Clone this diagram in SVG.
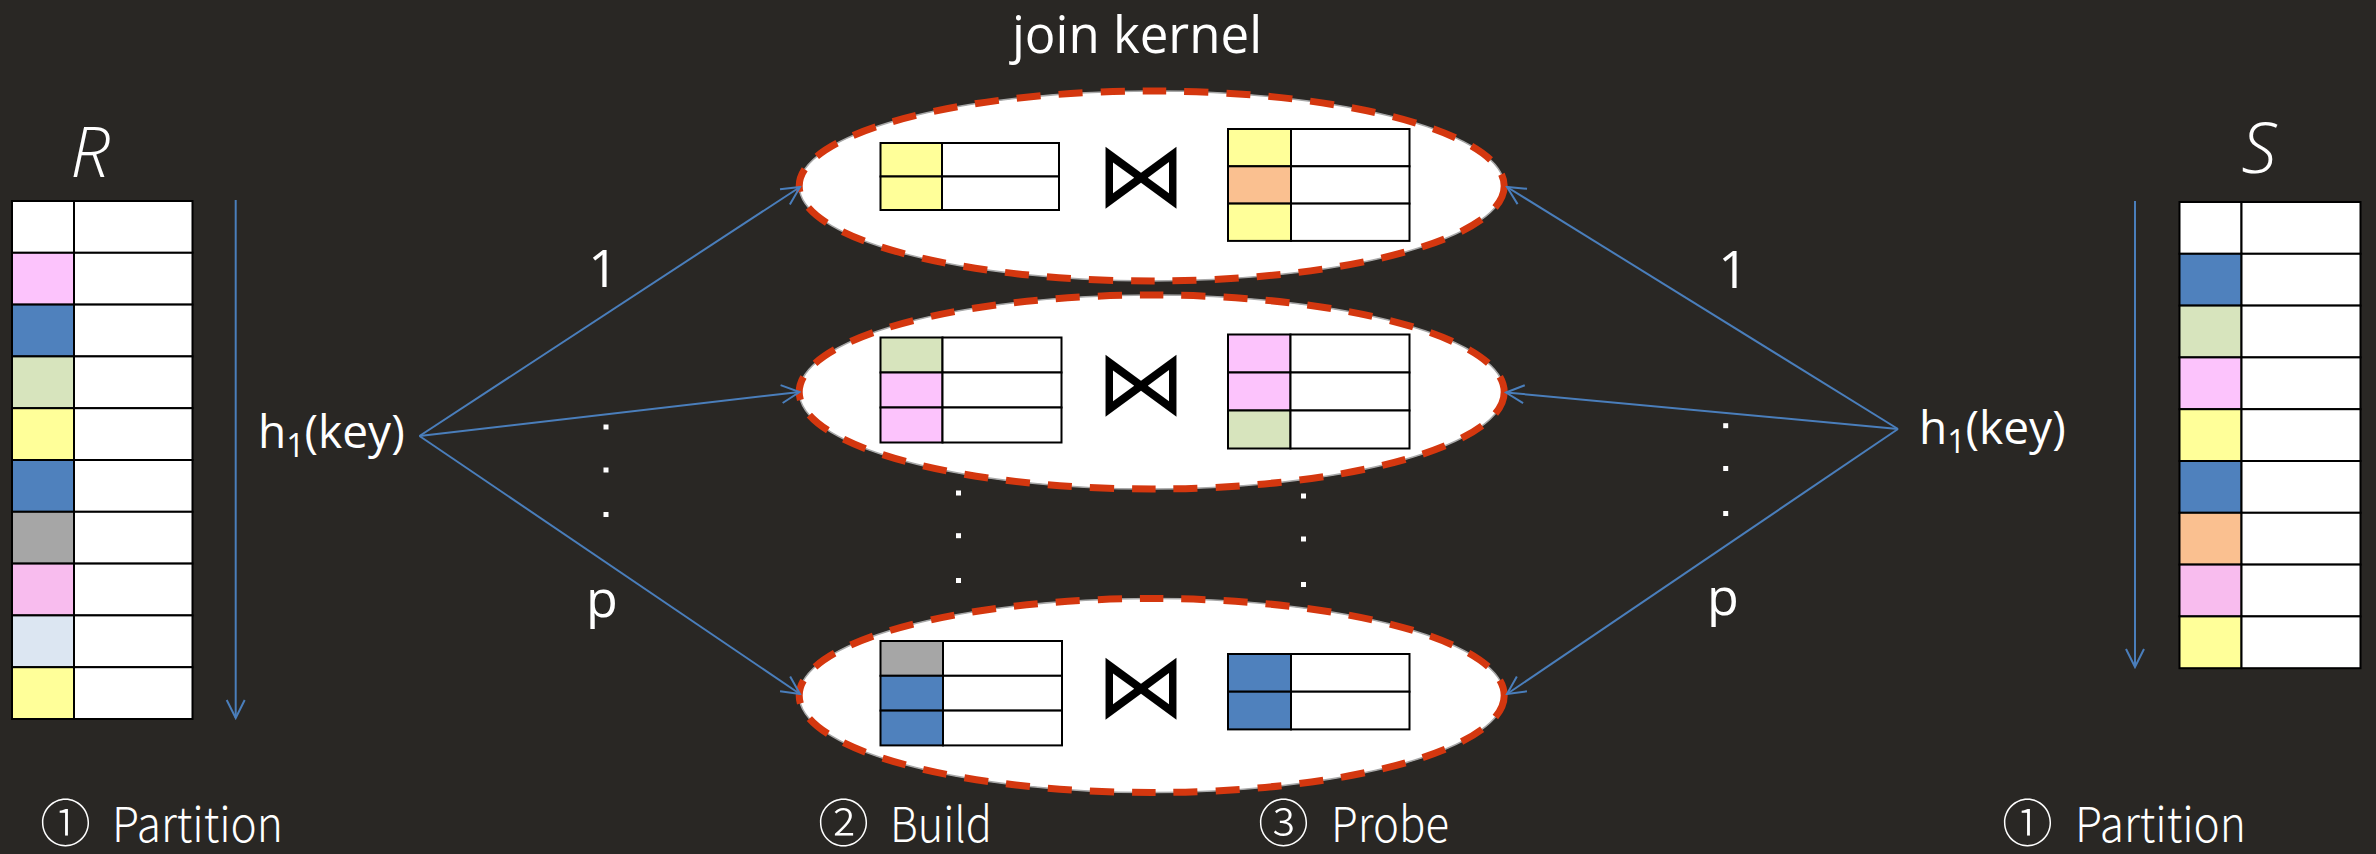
<svg xmlns="http://www.w3.org/2000/svg" width="2376" height="854" viewBox="0 0 2376 854">
<style>
.bg{fill:#292724}
.c{stroke:#000;stroke-width:2}
.w{fill:#fff}
.y{fill:#FFFF99}
.o{fill:#FAC090}
.g{fill:#D7E4BD}
.pk{fill:#FCC3FC}
.pk2{fill:#F8BCEE}
.b{fill:#4F81BD}
.gr{fill:#A6A6A6}
.lb{fill:#DCE6F2}
.t{fill:#fff;font-family:"Open Sans","Noto Sans",sans-serif}
.lt{fill:#fff;font-family:"Noto Sans CJK KR","Open Sans",sans-serif;font-weight:300}
.ell{fill:#fff;stroke:#a8a8a8;stroke-width:1.5}
.dash{fill:none;stroke:#D4370F;stroke-width:7;stroke-dasharray:24 18}
.bow{fill:#000;font-family:"DejaVu Sans",sans-serif}
.ar{fill:none;stroke:#4A7EBB;stroke-width:2}
</style>
<defs>
<marker id="ah" viewBox="-21 -11 23 22" refX="0" refY="0" markerWidth="23" markerHeight="22" markerUnits="userSpaceOnUse" orient="auto">
<path d="M-18,-9 L0,0 L-18,9" fill="none" stroke="#4A7EBB" stroke-width="2"/>
</marker>
</defs>
<rect class="bg" x="0" y="0" width="2376" height="854"/>

<text id="title" class="t" x="1137" y="53" font-size="51" text-anchor="middle">join kernel</text>

<g id="R">
<text class="t" x="90" y="177" font-size="70" font-weight="300" font-style="italic" text-anchor="middle">R</text>
<g class="c">
<rect class="w" x="12" y="201" width="62" height="51.8"/><rect class="w" x="74" y="201" width="118.5" height="51.8"/>
<rect class="pk" x="12" y="252.8" width="62" height="51.8"/><rect class="w" x="74" y="252.8" width="118.5" height="51.8"/>
<rect class="b" x="12" y="304.6" width="62" height="51.8"/><rect class="w" x="74" y="304.6" width="118.5" height="51.8"/>
<rect class="g" x="12" y="356.4" width="62" height="51.8"/><rect class="w" x="74" y="356.4" width="118.5" height="51.8"/>
<rect class="y" x="12" y="408.2" width="62" height="51.8"/><rect class="w" x="74" y="408.2" width="118.5" height="51.8"/>
<rect class="b" x="12" y="460" width="62" height="51.8"/><rect class="w" x="74" y="460" width="118.5" height="51.8"/>
<rect class="gr" x="12" y="511.8" width="62" height="51.8"/><rect class="w" x="74" y="511.8" width="118.5" height="51.8"/>
<rect class="pk2" x="12" y="563.6" width="62" height="51.8"/><rect class="w" x="74" y="563.6" width="118.5" height="51.8"/>
<rect class="lb" x="12" y="615.4" width="62" height="51.8"/><rect class="w" x="74" y="615.4" width="118.5" height="51.8"/>
<rect class="y" x="12" y="667.2" width="62" height="51.8"/><rect class="w" x="74" y="667.2" width="118.5" height="51.8"/>
</g>
</g>

<g id="S">
<text class="t" x="2259" y="173" font-size="70" font-weight="300" font-style="italic" text-anchor="middle">S</text>
<g class="c">
<rect class="w" x="2179.5" y="202" width="62" height="51.8"/><rect class="w" x="2241.5" y="202" width="119" height="51.8"/>
<rect class="b" x="2179.5" y="253.8" width="62" height="51.8"/><rect class="w" x="2241.5" y="253.8" width="119" height="51.8"/>
<rect class="g" x="2179.5" y="305.6" width="62" height="51.8"/><rect class="w" x="2241.5" y="305.6" width="119" height="51.8"/>
<rect class="pk" x="2179.5" y="357.4" width="62" height="51.8"/><rect class="w" x="2241.5" y="357.4" width="119" height="51.8"/>
<rect class="y" x="2179.5" y="409.2" width="62" height="51.8"/><rect class="w" x="2241.5" y="409.2" width="119" height="51.8"/>
<rect class="b" x="2179.5" y="461" width="62" height="51.8"/><rect class="w" x="2241.5" y="461" width="119" height="51.8"/>
<rect class="o" x="2179.5" y="512.8" width="62" height="51.8"/><rect class="w" x="2241.5" y="512.8" width="119" height="51.8"/>
<rect class="pk2" x="2179.5" y="564.6" width="62" height="51.8"/><rect class="w" x="2241.5" y="564.6" width="119" height="51.8"/>
<rect class="y" x="2179.5" y="616.4" width="62" height="51.8"/><rect class="w" x="2241.5" y="616.4" width="119" height="51.8"/>
</g>
</g>

<g id="kernel1">
<ellipse class="ell" cx="1151.7" cy="186" rx="352.5" ry="95"/>
<ellipse class="dash" cx="1151.7" cy="186" rx="352.5" ry="95"/>
<g class="c">
<rect class="y" x="880.5" y="143" width="61.5" height="33.5"/><rect class="w" x="942" y="143" width="117" height="33.5"/>
<rect class="y" x="880.5" y="176.5" width="61.5" height="33.5"/><rect class="w" x="942" y="176.5" width="117" height="33.5"/>
<rect class="y" x="1228" y="129" width="63" height="37.3"/><rect class="w" x="1291" y="129" width="118.5" height="37.3"/>
<rect class="o" x="1228" y="166.3" width="63" height="37.3"/><rect class="w" x="1291" y="166.3" width="118.5" height="37.3"/>
<rect class="y" x="1228" y="203.6" width="63" height="37.3"/><rect class="w" x="1291" y="203.6" width="118.5" height="37.3"/>
</g>
<text class="bow" x="1141" y="206" font-size="90" text-anchor="middle">⋈</text>
</g>

<g id="kernel2">
<ellipse class="ell" cx="1151.7" cy="392" rx="352.5" ry="97"/>
<ellipse class="dash" cx="1151.7" cy="392" rx="352.5" ry="97"/>
<g class="c">
<rect class="g" x="880.5" y="337.5" width="62" height="35"/><rect class="w" x="942.5" y="337.5" width="119" height="35"/>
<rect class="pk" x="880.5" y="372.5" width="62" height="35"/><rect class="w" x="942.5" y="372.5" width="119" height="35"/>
<rect class="pk" x="880.5" y="407.5" width="62" height="35"/><rect class="w" x="942.5" y="407.5" width="119" height="35"/>
<rect class="pk" x="1228" y="334.5" width="62.5" height="38"/><rect class="w" x="1290.5" y="334.5" width="119" height="38"/>
<rect class="pk" x="1228" y="372.5" width="62.5" height="38"/><rect class="w" x="1290.5" y="372.5" width="119" height="38"/>
<rect class="g" x="1228" y="410.5" width="62.5" height="38"/><rect class="w" x="1290.5" y="410.5" width="119" height="38"/>
</g>
<text class="bow" x="1141" y="414" font-size="90" text-anchor="middle">⋈</text>
</g>

<g id="kernel3">
<ellipse class="ell" cx="1151.7" cy="695.5" rx="352.5" ry="97"/>
<ellipse class="dash" cx="1151.7" cy="695.5" rx="352.5" ry="97"/>
<g class="c">
<rect class="gr" x="880.5" y="641" width="62.5" height="34.8"/><rect class="w" x="943" y="641" width="119" height="34.8"/>
<rect class="b" x="880.5" y="675.8" width="62.5" height="34.8"/><rect class="w" x="943" y="675.8" width="119" height="34.8"/>
<rect class="b" x="880.5" y="710.6" width="62.5" height="34.8"/><rect class="w" x="943" y="710.6" width="119" height="34.8"/>
<rect class="b" x="1228" y="654" width="63" height="37.7"/><rect class="w" x="1291" y="654" width="118.5" height="37.7"/>
<rect class="b" x="1228" y="691.7" width="63" height="37.7"/><rect class="w" x="1291" y="691.7" width="118.5" height="37.7"/>
</g>
<text class="bow" x="1141" y="717" font-size="90" text-anchor="middle">⋈</text>
</g>

<g id="connectors" class="ar">
<line x1="235.7" y1="200" x2="235.7" y2="718" marker-end="url(#ah)"/>
<line x1="2135" y1="201" x2="2135" y2="667" marker-end="url(#ah)"/>
<line x1="419.5" y1="436" x2="800" y2="187" marker-end="url(#ah)"/>
<line x1="419.5" y1="436" x2="799.5" y2="392" marker-end="url(#ah)"/>
<line x1="419.5" y1="436" x2="800" y2="694" marker-end="url(#ah)"/>
<line x1="1898" y1="429" x2="1507" y2="187" marker-end="url(#ah)"/>
<line x1="1898" y1="429" x2="1506" y2="392.5" marker-end="url(#ah)"/>
<line x1="1898" y1="429" x2="1507" y2="694" marker-end="url(#ah)"/>
</g>

<g id="labels">
<text class="t" x="258" y="448" font-size="46">h<tspan font-size="32" dy="9">1</tspan><tspan dy="-9">(key)</tspan></text>
<text class="t" x="1919" y="444" font-size="46">h<tspan font-size="32" dy="9">1</tspan><tspan dy="-9">(key)</tspan></text>
<text class="t" x="603" y="287" font-size="52" text-anchor="middle">1</text>
<text class="t" x="602" y="617" font-size="52" text-anchor="middle">p</text>
<text class="t" x="1733" y="288" font-size="52" text-anchor="middle">1</text>
<text class="t" x="1723" y="615" font-size="52" text-anchor="middle">p</text>
<g fill="#fff">
<rect x="603.5" y="424.5" width="5" height="5"/><rect x="603.5" y="467.5" width="5" height="5"/><rect x="603.5" y="512" width="5" height="5"/>
<rect x="1723.2" y="423.2" width="5" height="5"/><rect x="1723.2" y="466" width="5" height="5"/><rect x="1723.2" y="511" width="5" height="5"/>
<rect x="956" y="490.5" width="5" height="5"/><rect x="956" y="533.2" width="5" height="5"/><rect x="956" y="578" width="5" height="5"/>
<rect x="1301" y="493.5" width="5" height="5"/><rect x="1301" y="536.5" width="5" height="5"/><rect x="1301" y="582" width="5" height="5"/>
</g>
</g>

<g id="steps">
<text class="lt" y="842"><tspan x="40" font-size="51">①</tspan><tspan x="112" font-size="48" textLength="171" lengthAdjust="spacingAndGlyphs">Partition</tspan></text>
<text class="lt" y="842"><tspan x="818" font-size="51">②</tspan><tspan x="890" font-size="48" textLength="102" lengthAdjust="spacingAndGlyphs">Build</tspan></text>
<text class="lt" y="842"><tspan x="1258" font-size="51">③</tspan><tspan x="1331" font-size="48" textLength="118" lengthAdjust="spacingAndGlyphs">Probe</tspan></text>
<text class="lt" y="842"><tspan x="2002" font-size="51">①</tspan><tspan x="2075" font-size="48" textLength="171" lengthAdjust="spacingAndGlyphs">Partition</tspan></text>
</g>
</svg>
